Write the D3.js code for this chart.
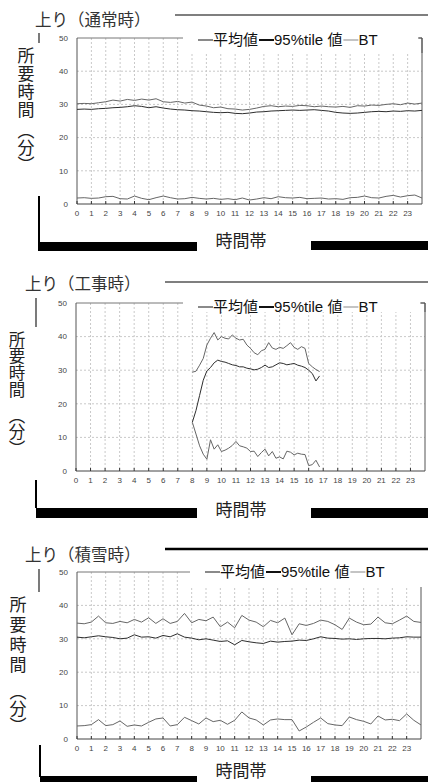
<!DOCTYPE html>
<html>
<head>
<meta charset="utf-8">
<script src="https://cdn.jsdelivr.net/npm/d3@7"></script>
<style>
  body { margin: 0; background: #fff; }
  svg { display: block; font-family: "Liberation Sans", "Noto Sans CJK JP", sans-serif; }
</style>
</head>
<body>
<div id="chart"></div>
<script>
// ---- data (minutes) ----
const panelTitles = ['上り（通常時）', '上り（工事時）', '上り（積雪時）'];
const legendLabels = ['平均値', '95%tile 値', 'BT'];
const xTickLabels = ['0','1','2','3','4','5','6','7','8','9','10','11','12','13','14','15','16','17','18','19','20','21','22','23'];
const yTickValues = [0, 10, 20, 30, 40, 50];
const yAxisTitle = '所要時間';
const yAxisUnit = '︵分︶';
const xAxisTitle = '時間帯';

// half-hour slots used for the normal and snow panels
const halfHourSlots = [0,0.5,1,1.5,2,2.5,3,3.5,4,4.5,5,5.5,6,6.5,7,7.5,8,8.5,9,9.5,10,10.5,11,11.5,
  12,12.5,13,13.5,14,14.5,15,15.5,16,16.5,17,17.5,18,18.5,19,19.5,20,20.5,21,21.5,22,22.5,23,23.5,24];

const normalMean = [28.5,28.6,28.5,28.7,28.8,29.0,29.1,29.3,29.6,29.4,29.0,29.3,28.9,28.6,28.4,28.3,28.1,28.0,27.8,27.6,
  27.5,27.6,27.3,27.2,27.4,27.7,27.8,28.0,28.1,28.2,28.3,28.2,28.3,28.4,28.2,28.0,27.6,27.4,27.3,27.4,
  27.6,27.8,27.9,27.8,28.0,27.9,28.1,28.0,28.2];
const normalP95 = [30.2,30.3,30.2,30.5,30.8,31.3,31.0,31.5,31.2,31.6,31.3,31.7,30.8,30.6,30.9,30.4,30.7,29.8,29.5,29.0,
  29.2,28.7,28.6,28.3,28.5,28.9,29.4,29.6,29.3,29.5,29.4,29.7,29.6,29.3,29.5,29.3,29.2,29.4,29.1,29.6,
  29.5,29.8,29.7,30.0,30.2,29.9,30.4,30.1,30.4];
const normalBT = [1.8,1.9,1.7,1.8,2.2,2.3,1.6,1.5,2.4,1.7,1.3,1.9,2.4,1.9,1.5,1.6,2.0,1.7,1.5,1.7,
  1.4,1.6,1.3,1.8,1.2,1.5,1.9,1.6,2.2,1.9,1.8,2.0,1.6,1.7,1.8,1.5,1.6,1.4,1.9,2.0,
  2.4,1.9,1.8,2.3,2.6,2.1,2.5,2.7,1.8];

// construction only ran 8:00 - 17:00, quarter-hour slots
const constructionSlots = [8,8.25,8.5,8.75,9,9.25,9.5,9.75,10,10.25,10.5,10.75,11,11.25,11.5,11.75,
  12,12.25,12.5,12.75,13,13.25,13.5,13.75,14,14.25,14.5,14.75,15,15.25,15.5,15.75,16,16.25,16.5,16.75];
const constructionMean = [14.5,18.0,22.5,27.0,29.8,30.8,32.2,33.0,32.6,32.4,32.0,31.6,31.4,31.0,31.0,30.6,
  30.4,30.1,30.3,30.8,31.5,30.8,31.0,31.6,32.2,32.0,31.6,31.8,32.0,31.5,31.2,30.8,30.0,29.0,26.8,28.3];
const constructionP95 = [29.4,29.7,31.5,33.5,37.5,39.5,41.2,39.0,40.0,39.5,39.3,40.5,39.5,39.0,39.2,37.5,
  36.5,35.2,34.6,35.8,36.2,38.2,36.6,36.2,36.8,36.5,37.3,38.2,36.8,36.2,37.0,36.5,32.0,31.0,30.2,29.6];
const constructionBT = [14.5,11.0,7.5,5.0,3.5,9.3,6.5,7.8,5.8,6.2,6.8,7.6,8.8,7.5,7.2,6.8,
  5.8,5.9,4.3,5.5,6.5,4.5,5.8,3.8,4.2,3.6,5.9,5.6,4.8,5.3,5.0,4.9,1.6,1.9,3.2,1.2];

const snowMean = [30.5,30.3,30.6,30.9,30.6,30.4,30.0,30.2,31.2,30.5,30.6,30.2,31.0,30.6,31.5,30.5,30.2,29.7,30.0,29.6,
  29.2,29.4,28.2,29.5,29.1,28.8,28.6,29.3,29.0,29.2,29.3,29.6,29.5,30.0,30.6,30.2,30.1,29.9,30.0,29.8,
  30.0,30.1,30.1,30.0,30.2,30.3,30.6,30.5,30.5];
const snowP95 = [34.7,34.5,35.0,36.8,34.8,34.6,35.2,34.8,35.8,35.0,36.3,34.6,36.0,34.6,35.2,37.6,34.8,35.8,35.4,36.5,
  33.6,35.0,33.3,37.0,35.6,35.0,33.6,35.5,34.8,36.2,31.2,34.5,34.0,34.6,35.6,35.2,34.2,32.8,36.2,35.0,
  34.2,34.4,36.5,34.8,34.5,35.6,36.8,35.2,34.9];
const snowBT = [3.9,4.0,4.3,5.8,4.0,4.3,5.4,3.8,4.2,3.9,5.0,6.0,6.3,3.9,4.3,6.5,5.5,4.5,6.3,5.2,
  5.6,4.4,5.6,8.1,6.3,5.7,4.2,5.7,6.0,5.8,5.8,2.4,3.6,5.0,6.3,4.6,4.2,4.0,6.6,5.8,
  5.3,4.5,6.9,5.7,5.9,5.5,7.5,5.6,4.2];

// ---- styling ----
const lineColors = { mean: '#2e2e2e', p95: '#666', bt: '#666' };
const legendColors = ['#8a8a8a', '#111', '#c4c4c4']; // dash colours in the legend

// page layout of each of the three scanned panels
const panels = [
  {
    title: panelTitles[0], slots: halfHourSlots,
    series: [normalP95, normalMean, normalBT], colors: [lineColors.p95, lineColors.mean, lineColors.bt],
    left: 77, right: 422, top: 38, bottom: 204,
    titleX: 35, titleY: 26, ruleX: 175, ruleY: 15, ruleW: 1.2,
    tickX: 39, tickY: [33, 43],
    legendX: 198, legendY: 40, legendBox: [183, 28, 236, 25], cornerTick: true,
    vX: 26, vY: 47, vSize: 17, vGap: 1, unitMid: 148,
    stemX: 39, stemY: [196, 242], barL: [38, 242, 159, 9], barR: [311, 241, 117, 9],
    axisTitleY: 247
  },
  {
    title: panelTitles[1], slots: constructionSlots,
    series: [constructionP95, constructionMean, constructionBT], colors: [lineColors.p95, lineColors.mean, lineColors.bt],
    left: 76, right: 425, top: 303, bottom: 471,
    titleX: 25, titleY: 290, ruleX: 165, ruleY: 282, ruleW: 1.2,
    tickX: 36, tickY: [298, 327],
    legendX: 198, legendY: 307, legendBox: [183, 294, 237, 18], cornerTick: true,
    vX: 17, vY: 331, vSize: 16.5, vGap: 0.2, unitMid: 432,
    stemX: 36, stemY: [480, 508], barL: [36, 508, 161, 10], barR: [311, 508, 117, 10],
    axisTitleY: 516
  },
  {
    title: panelTitles[2], slots: halfHourSlots,
    series: [snowP95, snowMean, snowBT], colors: [lineColors.p95, lineColors.mean, lineColors.bt],
    left: 77, right: 421, top: 572, bottom: 739,
    titleX: 25, titleY: 561, ruleX: 165, ruleY: 549, ruleW: 2.5,
    tickX: 39, tickY: [569, 592],
    legendX: 205, legendY: 572, legendBox: [190, 560, 238, 27], cornerTick: false,
    vX: 18, vY: 596, vSize: 17, vGap: 3, unitMid: 709,
    stemX: 40, stemY: [745, 777], barL: [40, 776, 157, 6], barR: [311, 776, 117, 6],
    axisTitleY: 777
  }
];

const svg = d3.select('#chart')
  .append('svg')
  .attr('width', 428)
  .attr('height', 782);

panels.forEach(p => drawPanel(p));

function drawPanel(p) {
  const g = svg.append('g');

  const x = d3.scaleLinear().domain([0, 24]).range([p.left, p.right]);
  const y = d3.scaleLinear().domain([0, 50]).range([p.bottom, p.top]);
  const hourTicks = xTickLabels.map(d => +d);

  // dashed grid
  g.selectAll('.vgrid')
    .data(hourTicks.filter(d => d > 0))
    .join('line')
    .attr('x1', d => x(d)).attr('x2', d => x(d))
    .attr('y1', p.top).attr('y2', p.bottom)
    .attr('stroke', '#c9c9c9').attr('stroke-dasharray', '2,2');

  g.selectAll('.hgrid')
    .data(yTickValues.filter(d => d > 0 && d < 50))
    .join('line')
    .attr('x1', p.left).attr('x2', p.right)
    .attr('y1', d => y(d)).attr('y2', d => y(d))
    .attr('stroke', '#c9c9c9').attr('stroke-dasharray', '2,2');

  // frame
  g.append('line').attr('x1', p.left).attr('x2', p.right).attr('y1', y(50)).attr('y2', y(50))
    .attr('stroke', '#777');
  g.append('line').attr('x1', p.right).attr('x2', p.right).attr('y1', y(50)).attr('y2', y(0))
    .attr('stroke', '#555');
  g.append('line').attr('x1', p.left).attr('x2', p.left).attr('y1', y(50)).attr('y2', y(0))
    .attr('stroke', '#555');
  g.append('line').attr('x1', p.left).attr('x2', p.right).attr('y1', y(0)).attr('y2', y(0))
    .attr('stroke', '#444');

  // small hour ticks on the baseline
  g.selectAll('.xtick')
    .data(hourTicks)
    .join('line')
    .attr('x1', d => x(d)).attr('x2', d => x(d))
    .attr('y1', y(0)).attr('y2', y(0) - 3)
    .attr('stroke', '#333');

  // axis labels
  g.selectAll('.ylab')
    .data(yTickValues)
    .join('text')
    .attr('x', p.left - 9)
    .attr('y', d => y(d))
    .attr('dy', '0.35em')
    .attr('text-anchor', 'end')
    .style('font-size', '8px')
    .attr('fill', '#444')
    .text(d => d);

  g.selectAll('.xlab')
    .data(xTickLabels)
    .join('text')
    .attr('x', d => x(+d))
    .attr('y', y(0) + 9)
    .attr('dy', '0.35em')
    .attr('text-anchor', 'middle')
    .style('font-size', '8px')
    .attr('fill', '#444')
    .text(d => d);

  // the three series
  const line = d3.line()
    .x(d => x(d.h))
    .y(d => y(d.v));

  p.series.forEach((vals, i) => {
    const pts = vals.map((v, k) => ({ h: p.slots[k], v: v }));
    g.append('path')
      .datum(pts)
      .attr('fill', 'none')
      .attr('stroke', p.colors[i])
      .attr('stroke-width', 1)
      .attr('d', line);
  });

  // legend sits on a white box that hides the top frame
  const lb = p.legendBox;
  g.append('rect').attr('x', lb[0]).attr('y', lb[1]).attr('width', lb[2]).attr('height', lb[3])
    .attr('fill', '#fff');
  if (p.cornerTick) {
    g.append('line').attr('x1', p.right - 4).attr('x2', p.right).attr('y1', y(50)).attr('y2', y(50))
      .attr('stroke', '#555');
    g.append('line').attr('x1', p.right).attr('x2', p.right).attr('y1', y(50)).attr('y2', lb[1] + lb[3])
      .attr('stroke', '#555');
  }

  let cx = p.legendX;
  legendLabels.forEach((label, i) => {
    g.append('line')
      .attr('x1', cx).attr('x2', cx + 15)
      .attr('y1', p.legendY).attr('y2', p.legendY)
      .attr('stroke', legendColors[i]).attr('stroke-width', 2);
    cx += 15;
    const t = g.append('text')
      .attr('x', cx)
      .attr('y', p.legendY)
      .attr('dy', '0.36em')
      .style('font-size', '15px')
      .attr('fill', '#111')
      .text(label);
    cx += t.node().getComputedTextLength() + 1;
  });

  // title with its rule
  g.append('text')
    .attr('x', p.titleX)
    .attr('y', p.titleY)
    .style('font-family', '"Noto Sans CJK JP", sans-serif')
    .style('font-size', '16.5px')
    .attr('fill', '#333')
    .text(p.title);
  g.append('line').attr('x1', p.ruleX).attr('x2', 428).attr('y1', p.ruleY).attr('y2', p.ruleY)
    .attr('stroke', '#000').attr('stroke-width', p.ruleW);
  g.append('line').attr('x1', p.tickX).attr('x2', p.tickX).attr('y1', p.tickY[0]).attr('y2', p.tickY[1])
    .attr('stroke', '#222').attr('stroke-width', 1.2);

  // vertical y-axis title (top-to-bottom writing)
  g.append('text')
    .attr('x', p.vX)
    .attr('y', p.vY)
    .style('writing-mode', 'vertical-rl')
    .style('font-family', '"Noto Sans CJK JP", sans-serif')
    .style('font-size', p.vSize + 'px')
    .style('letter-spacing', p.vGap + 'px')
    .attr('fill', '#222')
    .text(yAxisTitle);
  g.append('text')
    .attr('x', p.vX)
    .attr('y', p.unitMid)
    .attr('text-anchor', 'middle')
    .style('writing-mode', 'vertical-rl')
    .style('font-family', '"Noto Sans CJK JP", sans-serif')
    .style('font-size', p.vSize + 'px')
    .attr('fill', '#222')
    .text(yAxisUnit);

  // heavy bars around the x-axis title
  g.append('line').attr('x1', p.stemX).attr('x2', p.stemX).attr('y1', p.stemY[0]).attr('y2', p.stemY[1])
    .attr('stroke', '#000').attr('stroke-width', 2);
  g.append('rect').attr('x', p.barL[0]).attr('y', p.barL[1]).attr('width', p.barL[2]).attr('height', p.barL[3])
    .attr('fill', '#000');
  g.append('rect').attr('x', p.barR[0]).attr('y', p.barR[1]).attr('width', p.barR[2]).attr('height', p.barR[3])
    .attr('fill', '#000');
  g.append('text')
    .attr('x', 241)
    .attr('y', p.axisTitleY)
    .attr('text-anchor', 'middle')
    .style('font-family', '"Noto Sans CJK JP", sans-serif')
    .style('font-size', '17px')
    .attr('fill', '#222')
    .text(xAxisTitle);
}
</script>
</body>
</html>
